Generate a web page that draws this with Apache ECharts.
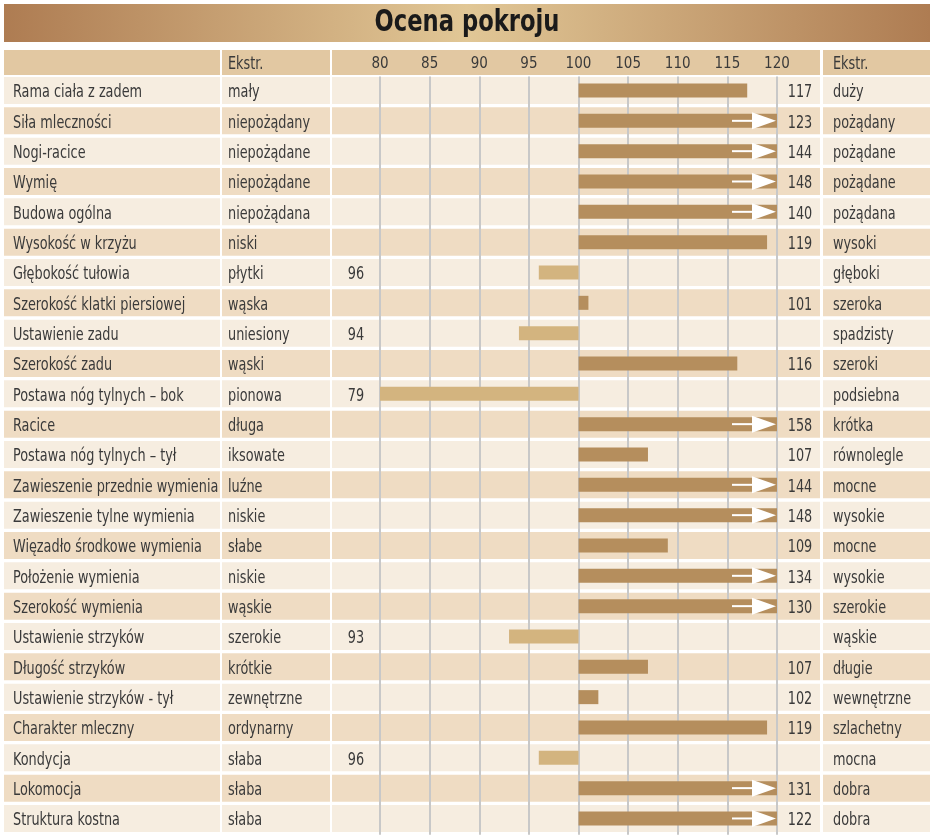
<!DOCTYPE html>
<html><head><meta charset="utf-8">
<script src="https://cdn.jsdelivr.net/npm/echarts@6/dist/echarts.min.js"></script>
<style>html,body{margin:0;padding:0;background:#fff}#c{width:938px;height:838px}</style>
</head><body><div id="c"></div>
<script>
var title = 'Ocena pokroju';
var headerExt = 'Ekstr.';
var traits = ['Rama ciała z zadem','Siła mleczności','Nogi-racice','Wymię','Budowa ogólna','Wysokość w krzyżu','Głębokość tułowia','Szerokość klatki piersiowej','Ustawienie zadu','Szerokość zadu','Postawa nóg tylnych – bok','Racice','Postawa nóg tylnych – tył','Zawieszenie przednie wymienia','Zawieszenie tylne wymienia','Więzadło środkowe wymienia','Położenie wymienia','Szerokość wymienia','Ustawienie strzyków','Długość strzyków','Ustawienie strzyków - tył','Charakter mleczny','Kondycja','Lokomocja','Struktura kostna'];
var lowExt = ['mały','niepożądany','niepożądane','niepożądane','niepożądana','niski','płytki','wąska','uniesiony','wąski','pionowa','długa','iksowate','luźne','niskie','słabe','niskie','wąskie','szerokie','krótkie','zewnętrzne','ordynarny','słaba','słaba','słaba'];
var highExt = ['duży','pożądany','pożądane','pożądane','pożądana','wysoki','głęboki','szeroka','spadzisty','szeroki','podsiebna','krótka','równolegle','mocne','wysokie','mocne','wysokie','szerokie','wąskie','długie','wewnętrzne','szlachetny','mocna','dobra','dobra'];
var values = [117,123,144,148,140,119,96,101,94,116,79,158,107,144,148,109,134,130,93,107,102,119,96,131,122];
var axisTicks = [80,85,90,95,100,105,110,115,120];
var axisMin = 80, axisMax = 120, base = 100;

var FONT = '"DejaVu Sans Condensed","Liberation Sans Narrow",Roboto,sans-serif';
var TXT = '#3a3a3a';
var ROW_A = '#f6ede0', ROW_B = '#efdcc3', HEAD = '#e2c8a2';
var BAR_POS = '#b58e5d', BAR_NEG = '#d3b47f';
var cols = [[4,220],[222,330],[332,820],[823,930]];
var SX = 0.84;

var chart = echarts.init(document.getElementById('c'), null, {renderer:'canvas'});

function txt(s, x, y, align){
  return {type:'text', x:x, y:y, scaleX:SX,
    style:{text:s, x:0, y:0, font:'17px '+FONT, fill:TXT, align:align, verticalAlign:'middle'}};
}

function rowItem(params, api){
  var i = api.value(0);
  var c = api.coord([axisMin, i]);
  var band = api.size([0,1])[1];
  var top = c[1] - band/2;
  var col = (i % 2 === 0) ? ROW_A : ROW_B;
  var ch = [];
  cols.forEach(function(cc){
    ch.push({type:'rect', shape:{x:cc[0], y:top+0.5, width:cc[1]-cc[0], height:27}, style:{fill:col}});
  });
  var ty = top + 16.5;
  ch.push(txt(traits[i], 13, ty, 'left'));
  ch.push(txt(lowExt[i], 228, ty, 'left'));
  ch.push(txt(highExt[i], 833, ty, 'left'));
  return {type:'group', children:ch};
}

function barItem(params, api){
  var i = api.value(0);
  var v = api.value(1);
  var band = api.size([0,1])[1];
  var cy = api.coord([base, i])[1] - band/2 + 14;
  var x0 = api.coord([base, i])[0];
  var h = 14;
  var ch = [];
  if (v >= base){
    var x1 = api.coord([Math.min(v, axisMax), i])[0];
    ch.push({type:'rect', shape:{x:x0, y:cy-h/2, width:x1-x0, height:h}, style:{fill:BAR_POS}});
    if (v > axisMax){
      var tip = x1 - 1;
      ch.push({type:'polygon', shape:{points:[[tip-24, cy-8.5],[tip, cy],[tip-24, cy+8.5]]}, style:{fill:'#fff'}});
      ch.push({type:'rect', shape:{x:tip-44, y:cy-1, width:21, height:2}, style:{fill:'#fff'}});
    }
    var lx = api.coord([axisMax, i])[0] + 23;
    ch.push(txt(String(v), lx, cy+2.5, 'center'));
  } else {
    var xv = api.coord([Math.max(v, axisMin), i])[0];
    ch.push({type:'rect', shape:{x:xv, y:cy-h/2, width:x0-xv, height:h}, style:{fill:BAR_NEG}});
    var lx2 = api.coord([axisMin, i])[0] - 24;
    ch.push(txt(String(v), lx2, cy+2.5, 'center'));
  }
  return {type:'group', children:ch};
}

var rowData = traits.map(function(t, i){ return [i]; });
var barData = values.map(function(v, i){ return [i, v]; });

var graphics = [
  {type:'rect', shape:{x:4, y:4, width:926, height:38}, z:0,
   style:{fill:new echarts.graphic.LinearGradient(0,0,1,0,[{offset:0,color:'#ae7c52'},{offset:0.5,color:'#e1c796'},{offset:1,color:'#ae7c52'}])}},
  {type:'text', x:467, y:23, scaleX:0.84, z:1, style:{text:title, x:0, y:0, font:'bold 30px '+FONT, fill:'#1a1a1a', align:'center', verticalAlign:'middle'}}
];
cols.forEach(function(cc){
  graphics.push({type:'rect', shape:{x:cc[0], y:50, width:cc[1]-cc[0], height:25}, z:0, style:{fill:HEAD}});
});
graphics.push({type:'text', x:228, y:65, scaleX:SX, z:1, style:{text:headerExt, x:0, y:0, font:'17px '+FONT, fill:TXT, align:'left', verticalAlign:'middle'}});
graphics.push({type:'text', x:833, y:65, scaleX:SX, z:1, style:{text:headerExt, x:0, y:0, font:'17px '+FONT, fill:TXT, align:'left', verticalAlign:'middle'}});

chart.setOption({
  animation:false,
  backgroundColor:'#ffffff',
  graphic: graphics,
  grid:{left:380, right:161, top:76.5, height:758.3, containLabel:false},
  xAxis:{type:'value', position:'top', min:axisMin, max:axisMax, interval:5, z:3,
    axisLine:{show:false}, axisTick:{show:false},
    axisLabel:{margin:5, fontSize:15, fontFamily:FONT, color:TXT,
      formatter:function(v){ return axisTicks.indexOf(v) >= 0 ? String(v) : ''; }},
    splitLine:{show:true, lineStyle:{color:'#c8c8c8', width:2}}},
  yAxis:{type:'category', inverse:true, data:traits, show:false},
  series:[
    {type:'custom', name:'rows', z:1, renderItem:rowItem, data:rowData, encode:{y:0}, silent:true, clip:false},
    {type:'custom', name:'bars', z:5, renderItem:barItem, data:barData, encode:{y:0, x:1}, silent:true, clip:false}
  ]
});
</script></body></html>
